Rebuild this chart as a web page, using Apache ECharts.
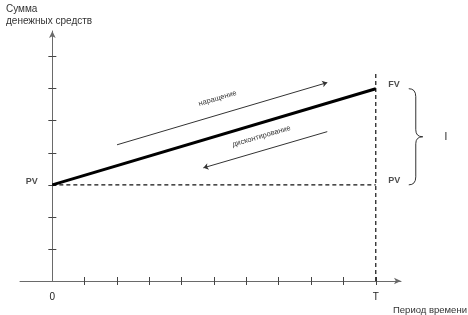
<!DOCTYPE html>
<html><head><meta charset="utf-8">
<script src="https://cdn.jsdelivr.net/npm/echarts@6/dist/echarts.min.js"></script>
<style>html,body{margin:0;padding:0;background:#fff}#c{width:468px;height:315px}</style>
</head><body><div id="c"></div>
<script>
// ---- data ----
const PV = 3;               // present value level
const FV = 6;               // future value level
const T = 10;               // end of period
const xTickValues = [1, 2, 3, 4, 5, 6, 7, 8, 9, 10];
const yTickValues = [1, 2, 3, 4, 5, 6, 7];
const xLabelValues = [0, 10];
const xLabelTexts = ['0', 'T'];
const growthLine = [[0, PV], [T, FV]];
const pvLine = [[0, PV], [T, PV]];
const tLine = [[T, 0], [T, 6.5]];
const accrualArrow = [[2.0, 4.25], [8.5, 6.19]];
const discountArrow = [[4.67, 3.53], [8.5, 4.66]];
const accrualText = 'наращение';
const discountText = 'дисконтирование';
const yTitle = 'Сумма\nденежных средств';
const xTitle = 'Период времени';
const braceText = 'I';

const font = 'Liberation Sans, Arial, sans-serif';
const axisColor = '#6a6a6a';
const X_MIN = -1, X_MAX = 10.78, Y_MIN = 0, Y_MAX = 7.8;

const chart = echarts.init(document.getElementById('c'), null, {renderer: 'canvas'});

function xAx(inside, main) {
  return {
    type: 'value', position: 'bottom', min: X_MIN, max: X_MAX, interval: 1,
    axisLine: main ? {show: true, onZero: true, symbol: ['none', 'arrow'], symbolSize: [5, 7],
      lineStyle: {color: axisColor, width: 1}} : {show: false, onZero: true},
    axisTick: {show: true, inside: inside, length: 4, customValues: xTickValues,
      lineStyle: {color: '#444', width: 1}},
    axisLabel: main ? {show: true, customValues: xLabelValues, margin: 11,
      formatter: v => xLabelTexts[xLabelValues.indexOf(v)] || '',
      color: '#222', fontSize: 10, fontFamily: font} : {show: false},
    splitLine: {show: false}
  };
}
function yAx(inside, main) {
  return {
    type: 'value', position: 'left', min: Y_MIN, max: Y_MAX, interval: 1,
    axisLine: main ? {show: true, onZero: true, symbol: ['none', 'arrow'], symbolSize: [5, 7],
      lineStyle: {color: axisColor, width: 1}} : {show: false, onZero: true},
    axisTick: {show: true, inside: inside, length: 4, customValues: yTickValues,
      lineStyle: {color: '#444', width: 1}},
    axisLabel: {show: false},
    splitLine: {show: false}
  };
}

const option = {
  animation: false,
  backgroundColor: '#fff',
  grid: {left: 20, right: 67, top: 31, bottom: 34, containLabel: false},
  title: [
    {text: yTitle, left: 6, top: 3, padding: 0, textStyle: {fontSize: 10, fontWeight: 'normal', color: '#333',
      fontFamily: font, lineHeight: 12}},
    {text: xTitle, left: 393, top: 305, padding: 0, textStyle: {fontSize: 9.5, fontWeight: 'normal', color: '#333',
      fontFamily: font, lineHeight: 10}}
  ],
  xAxis: [xAx(false, true), xAx(true, false)],
  yAxis: [yAx(false, true), yAx(true, false)],
  series: [
    {type: 'line', data: pvLine, symbol: 'none', silent: true,
      lineStyle: {color: '#111', width: 1.2, type: [4, 3]}},
    {type: 'line', data: tLine, symbol: 'none', silent: true,
      lineStyle: {color: '#111', width: 1.2, type: [4, 3]}},
    {type: 'line', data: growthLine, symbol: 'none', silent: true,
      lineStyle: {color: '#000', width: 3}},
    {type: 'lines', coordinateSystem: 'cartesian2d', silent: true,
      symbol: ['none', 'arrow'], symbolSize: 5,
      lineStyle: {color: '#333', width: 1, opacity: 1},
      label: {show: true, position: 'insideMiddleTop', distance: 12,
        formatter: accrualText, fontSize: 7.5, color: '#333', fontFamily: font},
      data: [{coords: accrualArrow}]},
    {type: 'lines', coordinateSystem: 'cartesian2d', silent: true,
      symbol: ['arrow', 'none'], symbolSize: 5,
      lineStyle: {color: '#333', width: 1, opacity: 1},
      label: {show: true, position: 'insideMiddleTop', distance: 10,
        formatter: discountText, fontSize: 7.5, color: '#333', fontFamily: font},
      data: [{coords: discountArrow}]},
    {type: 'scatter', symbolSize: 1, silent: true, itemStyle: {color: 'transparent'},
      label: {show: true, fontSize: 9, fontWeight: 'bold', color: '#222', fontFamily: font},
      data: [
        {value: [0, PV], label: {position: 'left', distance: 14, offset: [0, -3], formatter: 'PV'}},
        {value: [T, FV], label: {position: 'right', distance: 12, offset: [0, -4], formatter: 'FV'}},
        {value: [T, PV], label: {position: 'right', distance: 12, offset: [0, -4], formatter: 'PV'}}
      ]},
    {type: 'custom', silent: true, clip: false, data: [[T, PV, FV]],
      renderItem: function (params, api) {
        const top = api.coord([api.value(0), api.value(2)]);
        const bot = api.coord([api.value(0), api.value(1)]);
        const x0 = top[0] + 33, x1 = top[0] + 40, x2 = top[0] + 47;
        const y0 = top[1], y2 = bot[1], ym = (y0 + y2) / 2;
        const path = `M${x0} ${y0} Q${x1} ${y0} ${x1} ${y0 + 8} L${x1} ${ym - 7} Q${x1} ${ym} ${x2} ${ym} ` +
          `Q${x1} ${ym} ${x1} ${ym + 7} L${x1} ${y2 - 8} Q${x1} ${y2} ${x0} ${y2}`;
        return {type: 'group', children: [
          {type: 'path', shape: {pathData: path}, style: {fill: 'none', stroke: '#333', lineWidth: 1}},
          {type: 'text', x: x2 + 23, y: ym, style: {text: braceText, fill: '#222', fontSize: 10,
            fontFamily: font, align: 'center', verticalAlign: 'middle'}}
        ]};
      }}
  ]
};
chart.setOption(option);
</script></body></html>
